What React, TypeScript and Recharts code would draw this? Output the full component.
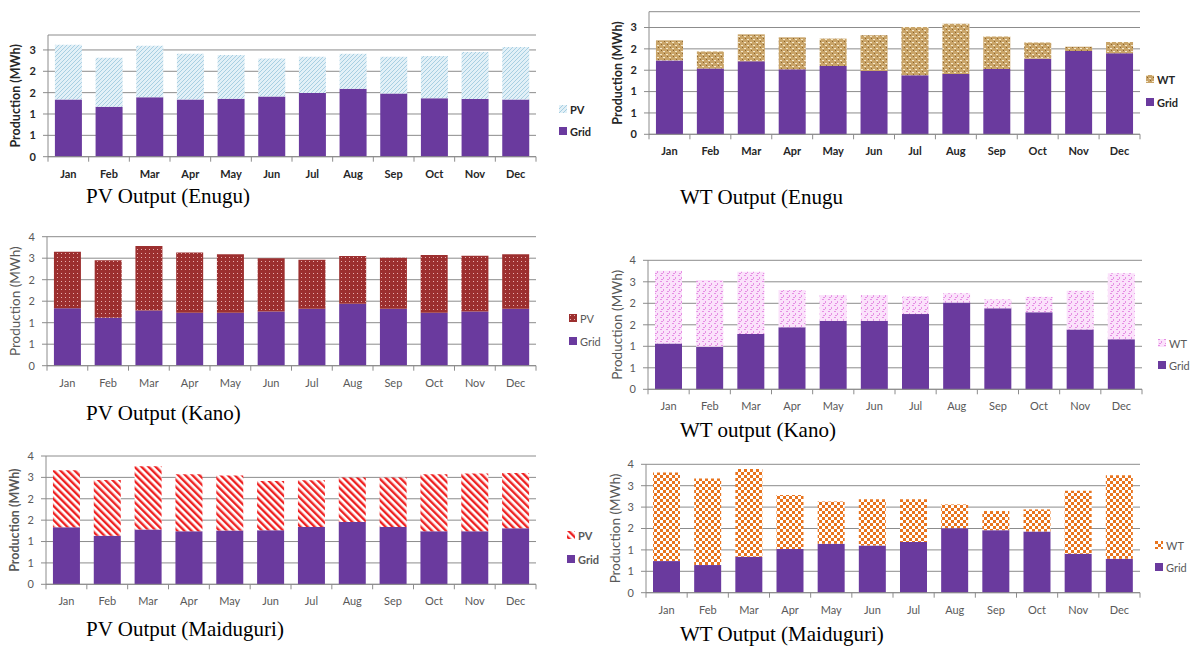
import React from 'react';
import { BarChart, Bar, XAxis, YAxis, CartesianGrid, Legend } from 'recharts';

const months = ['Jan', 'Feb', 'Mar', 'Apr', 'May', 'Jun', 'Jul', 'Aug', 'Sep', 'Oct', 'Nov', 'Dec'];

const enuguPvGrid = [1.34, 1.17, 1.39, 1.34, 1.36, 1.41, 1.49, 1.59, 1.48, 1.37, 1.35, 1.34];
const enuguPv = [1.28, 1.15, 1.21, 1.07, 1.02, 0.89, 0.85, 0.82, 0.86, 0.99, 1.10, 1.23];

const enuguWtGrid = [1.73, 1.54, 1.71, 1.52, 1.60, 1.48, 1.38, 1.41, 1.53, 1.77, 1.95, 1.90];
const enuguWt = [0.47, 0.40, 0.63, 0.75, 0.64, 0.84, 1.13, 1.18, 0.76, 0.38, 0.10, 0.26];

const kanoPvGrid = [1.60, 1.34, 1.54, 1.48, 1.48, 1.51, 1.59, 1.73, 1.59, 1.48, 1.51, 1.59];
const kanoPv = [1.58, 1.60, 1.80, 1.68, 1.63, 1.49, 1.37, 1.33, 1.42, 1.61, 1.56, 1.52];

const kanoWtGrid = [1.28, 1.19, 1.54, 1.73, 1.91, 1.91, 2.10, 2.42, 2.26, 2.15, 1.67, 1.40];
const kanoWt = [2.03, 1.86, 1.74, 1.04, 0.72, 0.72, 0.49, 0.26, 0.25, 0.43, 1.08, 1.84];

const maidPvGrid = [1.60, 1.36, 1.54, 1.49, 1.51, 1.52, 1.61, 1.75, 1.61, 1.49, 1.49, 1.57];
const maidPv = [1.60, 1.57, 1.77, 1.60, 1.54, 1.38, 1.31, 1.25, 1.39, 1.60, 1.62, 1.55];

const maidWtGrid = [0.96, 0.84, 1.09, 1.33, 1.49, 1.43, 1.54, 1.96, 1.90, 1.86, 1.18, 1.03];
const maidWt = [2.69, 2.63, 2.67, 1.64, 1.28, 1.41, 1.30, 0.72, 0.58, 0.67, 1.92, 2.54];

const ticksHalf = [0, 0.5, 1, 1.5, 2, 2.5];
const ticksSix = [0, 0.6, 1.2, 1.8, 2.4, 3.0, 3.6];
const ticksSixFive = [0, 0.65, 1.3, 1.95, 2.6, 3.25, 3.9];

const PURPLE = '#6a3a9e';
const AXIS = '#8c8c8c';
const FONT = "Lato, 'Open Sans', sans-serif";

function PatternDef({ id, kind }: { id: string; kind: string }) {
  if (kind === 'lightHatch') {
    return (
      <pattern id={id} width={4} height={4} patternUnits="userSpaceOnUse">
        <rect width={4} height={4} fill="#e2f0f7" />
        <path d="M-1,1 l2,-2 M0,4 l4,-4 M3,5 l2,-2" stroke="#a7cfe2" strokeWidth={1} />
      </pattern>
    );
  }
  if (kind === 'brick') {
    return (
      <pattern id={id} width={6} height={6} patternUnits="userSpaceOnUse">
        <rect width={6} height={6} fill="#c9a468" />
        <rect x={0} y={0} width={2} height={1} fill="#f4e8cc" />
        <rect x={3} y={3} width={2} height={1} fill="#f4e8cc" />
        <rect x={1} y={2} width={1} height={1} fill="#8a6430" />
        <rect x={4} y={5} width={1} height={1} fill="#8a6430" />
      </pattern>
    );
  }
  if (kind === 'redDots') {
    return (
      <pattern id={id} width={4} height={4} patternUnits="userSpaceOnUse">
        <rect width={4} height={4} fill="#9c2f2f" />
        <rect x={1} y={1} width={1} height={1} fill="#e8b0b0" />
      </pattern>
    );
  }
  if (kind === 'pinkConfetti') {
    return (
      <pattern id={id} width={6} height={6} patternUnits="userSpaceOnUse">
        <rect width={6} height={6} fill="#fbe2fb" />
        <rect x={0} y={0} width={2} height={1} fill="#e690e4" />
        <rect x={3} y={2} width={1} height={2} fill="#e690e4" />
        <rect x={1} y={4} width={2} height={1} fill="#e690e4" />
      </pattern>
    );
  }
  if (kind === 'redStripes') {
    return (
      <pattern id={id} width={5} height={5} patternUnits="userSpaceOnUse" patternTransform="rotate(-45)">
        <rect width={5} height={5} fill="#ffffff" />
        <rect x={0} y={0} width={2.4} height={5} fill="#ee2222" />
      </pattern>
    );
  }
  return (
    <pattern id={id} width={6} height={6} patternUnits="userSpaceOnUse">
      <rect width={6} height={6} fill="#ffffff" />
      <rect x={0} y={0} width={3} height={3} fill="#e8741e" />
      <rect x={3} y={3} width={3} height={3} fill="#e8741e" />
    </pattern>
  );
}

type PanelProps = {
  id: string;
  col: number;
  panelTop: number;
  H: number;
  plotTop: number;
  plotBottom: number;
  plotLeft: number;
  plotRight: number;
  grid: number[];
  ren: number[];
  renName: string;
  ticks: number[];
  yMax: number;
  kind: string;
  legX: number;
  legY1: number;
  legY2: number;
  title: string;
  titleX: number;
  titleY: number;
  labelX: number;
  labelBold: boolean;
  labelSize: number;
  tickBold: boolean;
  legendBold: boolean;
  color: string;
};

function Panel(p: PanelProps) {
  const data = months.map((m, i) => ({ m, grid: p.grid[i], ren: p.ren[i] }));
  const W = 596;
  const yAxisW = 20;
  const xAxisH = 30;
  const margin = {
    top: p.plotTop - p.panelTop,
    left: p.plotLeft - p.col - yAxisW,
    right: p.col + W - p.plotRight,
    bottom: p.H - xAxisH - (p.plotBottom - p.panelTop),
  };
  const cw = (p.plotRight - p.plotLeft) / 12;
  const tickWeight = p.tickBold ? 700 : 400;
  const patId = 'pat-' + p.id;
  const swId = 'sw-' + p.id;

  const XTick = (props: any) => {
    const { x, y, payload, index } = props;
    const axisY = y - 5;
    return (
      <g>
        <line x1={x - cw / 2} x2={x - cw / 2} y1={axisY} y2={axisY + 5} stroke={AXIS} />
        {index === 11 && <line x1={x + cw / 2} x2={x + cw / 2} y1={axisY} y2={axisY + 5} stroke={AXIS} />}
        <text x={x} y={axisY + 21} textAnchor="middle" fontSize={11} fontWeight={tickWeight} fill={p.color} fontFamily={FONT}>
          {payload.value}
        </text>
      </g>
    );
  };

  const Swatch = ({ pattern }: { pattern: boolean }) => (
    <svg width={8} height={8} style={{ display: 'block' }}>
      {pattern && (
        <defs>
          <PatternDef id={swId} kind={p.kind} />
        </defs>
      )}
      <rect width={8} height={8} fill={pattern ? `url(#${swId})` : PURPLE} />
    </svg>
  );

  const legendContent = () => {
    const rowStyle = (top: number): React.CSSProperties => ({
      position: 'absolute',
      left: 0,
      top,
      height: 14,
      display: 'flex',
      alignItems: 'center',
      gap: 3,
      fontFamily: FONT,
      fontSize: 11,
      fontWeight: p.legendBold ? 700 : 400,
      color: p.color,
      whiteSpace: 'nowrap',
    });
    return (
      <div style={{ position: 'relative', width: 50, height: p.legY2 - p.legY1 + 14 }}>
        <div style={rowStyle(0)}>
          <Swatch pattern={true} />
          <span>{p.renName}</span>
        </div>
        <div style={rowStyle(p.legY2 - p.legY1)}>
          <Swatch pattern={false} />
          <span>Grid</span>
        </div>
      </div>
    );
  };

  const labelCy = (p.plotTop + p.plotBottom) / 2 - p.panelTop;
  const labelCx = p.labelX - p.col;

  return (
    <>
      <div style={{ position: 'absolute', left: p.col, top: p.panelTop, width: W, height: p.H }}>
        <BarChart width={W} height={p.H} data={data} margin={margin} barCategoryGap="17%">
          <defs>
            <PatternDef id={patId} kind={p.kind} />
          </defs>
          <CartesianGrid vertical={false} stroke={AXIS} strokeWidth={1} />
          <XAxis
            dataKey="m"
            interval={0}
            tickLine={false}
            tickSize={5}
            tickMargin={0}
            height={xAxisH}
            axisLine={{ stroke: AXIS }}
            tick={XTick}
          />
          <YAxis
            type="number"
            domain={[0, p.yMax]}
            ticks={p.ticks}
            interval={0}
            width={yAxisW}
            tickSize={5}
            tickMargin={7}
            axisLine={{ stroke: AXIS }}
            tickLine={{ stroke: AXIS }}
            tickFormatter={(v: number) => String(Math.round(v))}
            tick={{ fontSize: 11, fontWeight: tickWeight, fill: p.color, fontFamily: FONT }}
          />
          <Bar dataKey="grid" stackId="s" fill={PURPLE} isAnimationActive={false} />
          <Bar dataKey="ren" stackId="s" fill={`url(#${patId})`} isAnimationActive={false} />
          <Legend
            layout="horizontal"
            verticalAlign="middle"
            align="center"
            wrapperStyle={{ left: p.legX - p.col, top: p.legY1 - 7 - p.panelTop, width: 50 }}
            content={legendContent}
          />
          <text
            x={labelCx}
            y={labelCy}
            transform={`rotate(-90, ${labelCx}, ${labelCy})`}
            textAnchor="middle"
            dominantBaseline="central"
            fontSize={p.labelSize}
            fontWeight={p.labelBold ? 700 : 400}
            fill={p.color}
            fontFamily={FONT}
          >
            Production (MWh)
          </text>
        </BarChart>
      </div>
      <div
        style={{
          position: 'absolute',
          left: p.titleX,
          top: p.titleY - 12,
          fontFamily: "'Liberation Serif', 'Times New Roman', serif",
          fontSize: 21,
          lineHeight: '24px',
          color: '#000',
          whiteSpace: 'nowrap',
        }}
      >
        {p.title}
      </div>
    </>
  );
}

export default function App() {
  const dark = '#262626';
  const gray = '#595959';
  return (
    <div style={{ position: 'absolute', left: 0, top: 0, width: 1196, height: 649, background: '#fff', overflow: 'hidden' }}>
      <Panel id="p1" col={0} panelTop={0} H={190} plotTop={35} plotBottom={156.7} plotLeft={48} plotRight={536}
        grid={enuguPvGrid} ren={enuguPv} renName="PV" ticks={ticksHalf} yMax={2.85} kind="lightHatch"
        legX={559} legY1={109} legY2={131} title="PV Output (Enugu)" titleX={86} titleY={196}
        labelX={16} labelBold={true} labelSize={12.5} tickBold={true} legendBold={true} color={dark} />
      <Panel id="p2" col={600} panelTop={0} H={170} plotTop={11.7} plotBottom={134.3} plotLeft={649} plotRight={1140}
        grid={enuguWtGrid} ren={enuguWt} renName="WT" ticks={ticksHalf} yMax={2.87} kind="brick"
        legX={1146} legY1={79} legY2={102} title="WT Output (Enugu" titleX={680} titleY={197}
        labelX={617} labelBold={true} labelSize={12.5} tickBold={true} legendBold={true} color={dark} />
      <Panel id="p3" col={0} panelTop={220} H={180} plotTop={236.7} plotBottom={365.7} plotLeft={47} plotRight={536}
        grid={kanoPvGrid} ren={kanoPv} renName="PV" ticks={ticksSix} yMax={3.6} kind="redDots"
        legX={569} legY1={318} legY2={341} title="PV Output (Kano)" titleX={86} titleY={413}
        labelX={15} labelBold={false} labelSize={13.5} tickBold={false} legendBold={false} color={gray} />
      <Panel id="p4" col={600} panelTop={245} H={180} plotTop={260.3} plotBottom={389.3} plotLeft={648} plotRight={1142}
        grid={kanoWtGrid} ren={kanoWt} renName="WT" ticks={ticksSix} yMax={3.6} kind="pinkConfetti"
        legX={1158} legY1={343} legY2={365} title="WT output (Kano)" titleX={680} titleY={430}
        labelX={617} labelBold={false} labelSize={13.5} tickBold={false} legendBold={false} color={gray} />
      <Panel id="p5" col={0} panelTop={440} H={180} plotTop={456} plotBottom={584.3} plotLeft={46} plotRight={536}
        grid={maidPvGrid} ren={maidPv} renName="PV" ticks={ticksSix} yMax={3.6} kind="redStripes"
        legX={567} legY1={535} legY2={559} title="PV Output (Maiduguri)" titleX={86} titleY={629}
        labelX={15} labelBold={true} labelSize={12.5} tickBold={false} legendBold={true} color={gray} />
      <Panel id="p6" col={600} panelTop={445} H={180} plotTop={464.3} plotBottom={592.7} plotLeft={646} plotRight={1140}
        grid={maidWtGrid} ren={maidWt} renName="WT" ticks={ticksSixFive} yMax={3.9} kind="orangeCheck"
        legX={1155} legY1={545} legY2={567} title="WT Output (Maiduguri)" titleX={680} titleY={634}
        labelX={615} labelBold={false} labelSize={13.5} tickBold={false} legendBold={false} color={gray} />
    </div>
  );
}
